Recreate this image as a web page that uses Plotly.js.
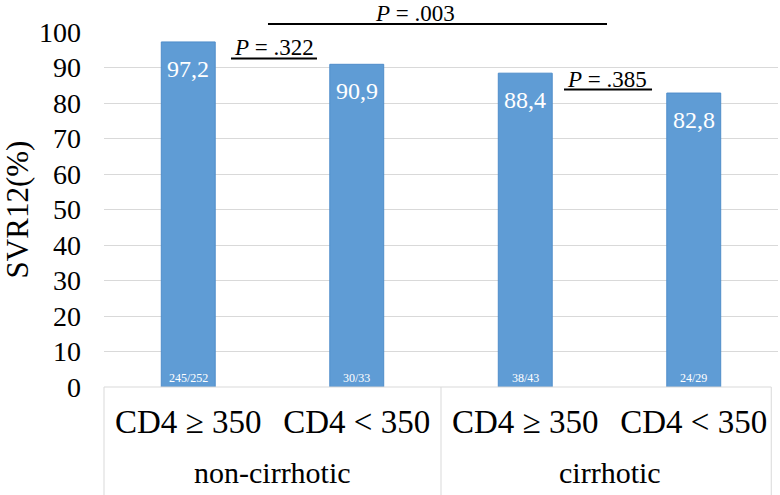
<!DOCTYPE html>
<html>
<head>
<meta charset="utf-8">
<script src="https://cdn.plot.ly/plotly-3.0.1.min.js"></script>
<style>
html,body{margin:0;padding:0;background:#fff;}
#chart{width:780px;height:495px;}
</style>
</head>
<body>
<div id="chart"></div>
<script>
// ---- data ----
var categories = ["CD4 ≥ 350", "CD4 < 350", "CD4 ≥ 350 ", "CD4 < 350 "];
var tickLabels = ["CD4 ≥ 350", "CD4 < 350", "CD4 ≥ 350", "CD4 < 350"];
var groups = ["non-cirrhotic", "cirrhotic"];
var svr12 = [97.2, 90.9, 88.4, 82.8];
var valueLabels = ["97,2", "90,9", "88,4", "82,8"];
var counts = ["245/252", "30/33", "38/43", "24/29"];
var pLabels = ["<i>P</i> = .322", "<i>P</i> = .003", "<i>P</i> = .385"];
var yTicks = [0, 10, 20, 30, 40, 50, 60, 70, 80, 90, 100];

var FONT = "Liberation Serif";
var BLUE = "#5f9cd5";

var trace = {
  type: "bar",
  x: categories,
  y: svr12,
  width: 0.32,
  marker: {color: BLUE, line: {color: "#4f8dca", width: 1}},
  hoverinfo: "skip"
};

var annotations = [];
for (var i = 0; i < categories.length; i++) {
  annotations.push({
    x: categories[i], y: svr12[i], xref: "x", yref: "y",
    text: valueLabels[i], showarrow: false, yanchor: "top", yshift: -12,
    font: {family: FONT, size: 24, color: "#ffffff"}
  });
  annotations.push({
    x: categories[i], y: 0, xref: "x", yref: "y",
    text: counts[i], showarrow: false, yanchor: "bottom", yshift: 0,
    font: {family: FONT, size: 12, color: "#ffffff"}
  });
}
annotations.push({x: 0.5, y: 0, xref: "x", yref: "paper", text: groups[0], showarrow: false,
  xanchor: "center", yanchor: "middle", yshift: -85, font: {family: FONT, size: 30, color: "#000"}});
annotations.push({x: 2.5, y: 0, xref: "x", yref: "paper", text: groups[1], showarrow: false,
  xanchor: "center", yanchor: "middle", yshift: -85, font: {family: FONT, size: 30, color: "#000"}});
var pX = [0.2515, 0.4614, 0.7463];
var pY = [0.9254, 1.0225, 0.838];
for (var k = 0; k < pLabels.length; k++) {
  annotations.push({x: pX[k], y: pY[k], xref: "paper", yref: "paper", text: pLabels[k],
    showarrow: false, xanchor: "center", yanchor: "bottom", yshift: -4,
    font: {family: FONT, size: 23, color: "#000"}});
}

var shapes = [
  {type: "line", xref: "paper", yref: "paper", x0: 0.1884, x1: 0.316, y0: 0.9254, y1: 0.9254, line: {color: "#000", width: 2}},
  {type: "line", xref: "paper", yref: "paper", x0: 0.2433, x1: 0.7463, y0: 1.0225, y1: 1.0225, line: {color: "#000", width: 2}},
  {type: "line", xref: "paper", yref: "paper", x0: 0.6825, x1: 0.8131, y0: 0.838, y1: 0.838, line: {color: "#000", width: 2}},
  {type: "line", xref: "paper", yref: "paper", x0: 0, x1: 0.99, y0: 0, y1: 0, line: {color: "#d9d9d9", width: 1}},
  {type: "line", xref: "paper", yref: "paper", x0: 0, x1: 0, y0: 0, y1: -0.31, line: {color: "#d9d9d9", width: 1}},
  {type: "line", xref: "paper", yref: "paper", x0: 0.5, x1: 0.5, y0: 0, y1: -0.31, line: {color: "#d9d9d9", width: 1}},
  {type: "line", xref: "paper", yref: "paper", x0: 0.99, x1: 0.99, y0: 0, y1: -0.31, line: {color: "#d9d9d9", width: 1}}
];

var layout = {
  width: 780, height: 495,
  margin: {l: 104, r: 2, t: 32, b: 108},
  paper_bgcolor: "#fff", plot_bgcolor: "#fff",
  showlegend: false,
  xaxis: {
    type: "category",
    tickvals: categories, ticktext: tickLabels,
    tickfont: {family: FONT, size: 33, color: "#000"},
    showline: false, showgrid: false, zeroline: false, ticks: "",
    ticklabelstandoff: 12,
    range: [-0.5, 3.5]
  },
  yaxis: {
    range: [0, 100], tickvals: yTicks,
    tickfont: {family: FONT, size: 28, color: "#000"},
    showgrid: true, gridcolor: "#d9d9d9", gridwidth: 1,
    zeroline: false, showline: false, ticks: "",
    ticklabelstandoff: 22,
    title: {text: "SVR12(%)", font: {family: FONT, size: 31, color: "#000"}, standoff: 16}
  },
  annotations: annotations,
  shapes: shapes
};

Plotly.newPlot("chart", [trace], layout, {displayModeBar: false, staticPlot: true});
</script>
</body>
</html>
